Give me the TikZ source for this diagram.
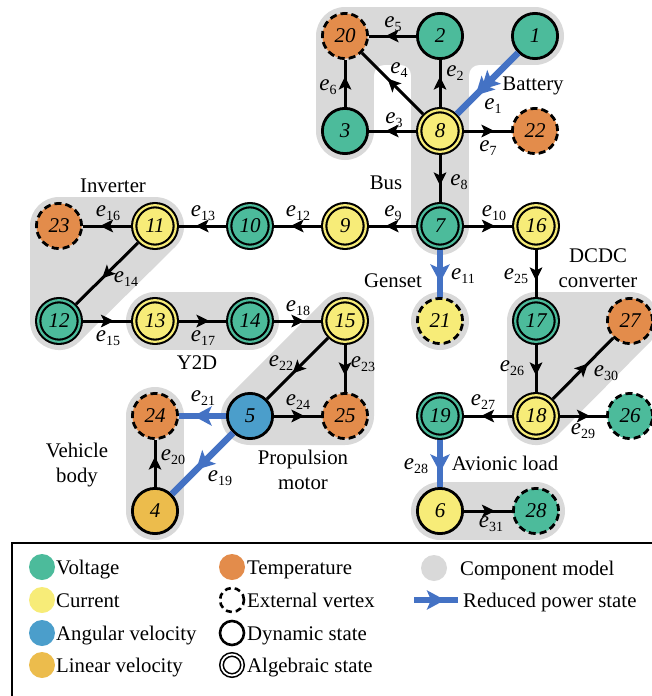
\documentclass[tikz,border=0pt]{standalone}
\usepackage{fontspec}
\setmainfont{Liberation Serif}
\usetikzlibrary{arrows.meta,decorations.markings,backgrounds}
\definecolor{cvolt}{HTML}{4CBB9B}
\definecolor{ctemp}{HTML}{E38C4B}
\definecolor{ccur}{HTML}{F7EC78}
\definecolor{cang}{HTML}{4B9ECB}
\definecolor{clin}{HTML}{ECBC4C}
\definecolor{cblue}{HTML}{4472C4}
\definecolor{cgrey}{HTML}{D9D9D9}
\newcommand{\elab}[1]{{\fontsize{23}{23}\selectfont\textit{e}}\raisebox{-3.5pt}{\fontsize{14}{14}\selectfont #1}}
\newcommand{\lblfont}{\fontsize{20.8}{22}\selectfont}
\tikzset{
  vx/.style={circle, fill=#1, draw=black, line width=2.8pt, minimum size=45.2pt, inner sep=0pt,
    font=\fontsize{21}{21}\selectfont\itshape},
  dyn/.style={vx=#1},
  ext/.style={vx=#1, dash pattern=on 7pt off 4pt},
  alg/.style={vx=#1, line width=2.1pt, double=#1, double distance=2.2pt, minimum size=41.6pt, outer sep=3.2pt},
  marr/.style={postaction={decorate}, decoration={markings,
    mark=at position 0.5 with {\pgftransformxshift{7pt}\arrow{Stealth[length=13pt,width=12.5pt,inset=3pt]}}}},
  ed/.style={draw=black, line width=3pt, marr},
  bmark/.style={decoration={markings,
    mark=at position 0.5 with {\pgftransformxshift{#1}\arrow{Stealth[length=18pt,width=19pt,inset=4pt]}}}},
  bed/.style={draw=cblue, line width=6.5pt, postaction={decorate}, bmark=9pt},
  elbl/.style={inner sep=0pt},
  tlbl/.style={inner sep=0pt, anchor=base, font=\lblfont},
  gline/.style={draw=cgrey, line width=58pt, line cap=round, line join=round},
  gtri/.style={draw=cgrey, fill=cgrey, line width=58pt, line join=round},
  lgd/.style={circle, fill=#1, minimum size=26pt, inner sep=0pt},
  lgo/.style={circle, draw=black, line width=2.6pt, minimum size=24pt, inner sep=0pt},
  ltext/.style={inner sep=0pt, anchor=base west, font=\lblfont},
}
\begin{document}
\begin{tikzpicture}[x=1pt, y=-1pt]
\useasboundingbox (0,0) rectangle (652,696);
% vertices
\node[dyn=cvolt] (n1) at (535,36) {1};
\node[dyn=cvolt] (n2) at (440,36) {2};
\node[ext=ctemp] (n20) at (345,36) {20};
\node[dyn=cvolt] (n3) at (345,131) {3};
\node[alg=ccur] (n8) at (440,131) {8};
\node[ext=ctemp] (n22) at (535,131) {22};
\node[alg=ccur] (n9) at (345,226) {9};
\node[alg=cvolt] (n7) at (440,226) {7};
\node[alg=ccur] (n16) at (536,226) {16};
\node[alg=cvolt] (n10) at (250,226) {10};
\node[alg=ccur] (n11) at (155,226) {11};
\node[ext=ctemp] (n23) at (59,226) {23};
\node[alg=cvolt] (n12) at (59,321) {12};
\node[alg=ccur] (n13) at (155,321) {13};
\node[alg=cvolt] (n14) at (250,321) {14};
\node[alg=ccur] (n15) at (345,321) {15};
\node[ext=ccur] (n21) at (440,321) {21};
\node[alg=cvolt] (n17) at (536,321) {17};
\node[ext=ctemp] (n27) at (630,321) {27};
\node[ext=ctemp] (n24) at (155,416) {24};
\node[dyn=cang] (n5) at (250,416) {5};
\node[ext=ctemp] (n25) at (345,416) {25};
\node[alg=cvolt] (n19) at (440,416) {19};
\node[alg=ccur] (n18) at (536,416) {18};
\node[ext=cvolt] (n26) at (630,416) {26};
\node[dyn=clin] (n4) at (155,511) {4};
\node[dyn=ccur] (n6) at (440,511) {6};
\node[ext=cvolt] (n28) at (536,511) {28};
% component model backgrounds
\begin{scope}[on background layer]
  \draw[gline] (n3.center) -- (n20.center) -- (n1.center);
  \draw[gline] (n2.center) -- (n7.center);
  \fill[cgrey] (374,65) -- (384,65) .. controls (378.5,65) and (374,69.5) .. (374,75) -- cycle;
  \fill[cgrey] (411,65) -- (411,75) .. controls (411,69.5) and (406.5,65) .. (401,65) -- cycle;
  \fill[cgrey] (469,65) -- (469,75) .. controls (469,69.5) and (473.5,65) .. (479,65) -- cycle;
  \filldraw[gtri] (n23.center) -- (n11.center) -- (n12.center) -- cycle;
  \draw[gline] (n13.center) -- (n14.center);
  \filldraw[gtri] (n15.center) -- (n25.center) -- (n5.center) -- cycle;
  \draw[gline] (n24.center) -- (n4.center);
  \filldraw[gtri] (n17.center) -- (n27.center) -- (n18.center) -- cycle;
  \draw[gline] (n6.center) -- (n28.center);
  \fill[cgrey] (n21.center) circle[radius=29pt];
\end{scope}
% edges
\draw[bed, bmark=17pt] (n1) -- (n8);
\draw[ed] (n8) -- (n2);
\draw[ed] (n8) -- (n3);
\draw[ed] (n8) -- (n20);
\draw[ed] (n2) -- (n20);
\draw[ed] (n3) -- (n20);
\draw[ed] (n8) -- (n22);
\draw[ed] (n8) -- (n7);
\draw[ed] (n7) -- (n9);
\draw[ed] (n7) -- (n16);
\draw[bed] (n7) -- (n21);
\draw[ed] (n9) -- (n10);
\draw[ed] (n10) -- (n11);
\draw[ed] (n11) -- (n12);
\draw[ed] (n12) -- (n13);
\draw[ed] (n11) -- (n23);
\draw[ed] (n13) -- (n14);
\draw[ed] (n14) -- (n15);
\draw[bed] (n5) -- (n4);
\draw[ed] (n4) -- (n24);
\draw[bed] (n5) -- (n24);
\draw[ed] (n15) -- (n5);
\draw[ed] (n15) -- (n25);
\draw[ed] (n5) -- (n25);
\draw[ed] (n16) -- (n17);
\draw[ed] (n17) -- (n18);
\draw[ed] (n18) -- (n19);
\draw[bed] (n19) -- (n6);
\draw[ed] (n18) -- (n26);
\draw[ed] (n18) -- (n27);
\draw[ed] (n6) -- (n28);
% edge labels
\node[elbl] (le1) at (493,106) {\elab{1}};
\node[elbl] (le2) at (455,73) {\elab{2}};
\node[elbl] (le3) at (394,120) {\elab{3}};
\node[elbl] (le4) at (399,70) {\elab{4}};
\node[elbl] (le5) at (393,24) {\elab{5}};
\node[elbl] (le6) at (328,87) {\elab{6}};
\node[elbl] (le7) at (488,148) {\elab{7}};
\node[elbl] (le8) at (459,182) {\elab{8}};
\node[elbl] (le9) at (393,213) {\elab{9}};
\node[elbl] (le10) at (494,213) {\elab{10}};
\node[elbl] (le11) at (463,276) {\elab{11}};
\node[elbl] (le12) at (298,213) {\elab{12}};
\node[elbl] (le13) at (203,213) {\elab{13}};
\node[elbl] (le14) at (126,279) {\elab{14}};
\node[elbl] (le15) at (108,338) {\elab{15}};
\node[elbl] (le16) at (108,213) {\elab{16}};
\node[elbl] (le17) at (203,338) {\elab{17}};
\node[elbl] (le18) at (298,308) {\elab{18}};
\node[elbl] (le19) at (220,478) {\elab{19}};
\node[elbl] (le20) at (173,457) {\elab{20}};
\node[elbl] (le21) at (203,398) {\elab{21}};
\node[elbl] (le22) at (281,363) {\elab{22}};
\node[elbl] (le23) at (363,364) {\elab{23}};
\node[elbl] (le24) at (298,402) {\elab{24}};
\node[elbl] (le25) at (516,276) {\elab{25}};
\node[elbl] (le26) at (512,368) {\elab{26}};
\node[elbl] (le27) at (483,402) {\elab{27}};
\node[elbl] (le28) at (416,466) {\elab{28}};
\node[elbl] (le29) at (583,431) {\elab{29}};
\node[elbl] (le30) at (606,373) {\elab{30}};
\node[elbl] (le31) at (491,524) {\elab{31}};
% component labels
\node[tlbl] (tbat) at (533,90) {Battery};
\node[tlbl] (tbus) at (386,189) {Bus};
\node[tlbl] (tinv) at (113,192) {Inverter};
\node[tlbl] (tgen) at (393,287) {Genset};
\node[tlbl] (tdc1) at (598,262) {DCDC};
\node[tlbl] (tdc2) at (598,287) {converter};
\node[tlbl] (ty2d) at (197,369) {Y2D};
\node[tlbl] (tpr1) at (303,464) {Propulsion};
\node[tlbl] (tpr2) at (303,489) {motor};
\node[tlbl] (tvb1) at (77,457) {Vehicle};
\node[tlbl] (tvb2) at (77,482) {body};
\node[tlbl] (tav) at (505,470) {Avionic load};
% legend
\draw[line width=1.5pt] (12,543) rectangle (720,760);
\node[lgd=cvolt] (lg1) at (42,567) {};
\node[ltext] (lt1) at (56,574) {Voltage};
\node[lgd=ccur] (lg2) at (42,600) {};
\node[ltext] (lt2) at (56,607) {Current};
\node[lgd=cang] (lg3) at (42,633) {};
\node[ltext] (lt3) at (56,640) {Angular velocity};
\node[lgd=clin] (lg4) at (42,665) {};
\node[ltext] (lt4) at (56,672) {Linear velocity};
\node[lgd=ctemp] (lg5) at (232,567) {};
\node[ltext] (lt5) at (247,574) {Temperature};
\node[lgo, dash pattern=on 6pt off 4pt] (lg6) at (232,600) {};
\node[ltext] (lt6) at (247,607) {External vertex};
\node[lgo] (lg7) at (232,633) {};
\node[ltext] (lt7) at (247,640) {Dynamic state};
\node[lgo, line width=1.6pt, double=white, double distance=1.8pt, minimum size=21pt] (lg8) at (232,665) {};
\node[ltext] (lt8) at (247,672) {Algebraic state};
\node[lgd=cgrey] (lg9) at (434,568) {};
\node[ltext] (lt9) at (460,575) {Component model};
\coordinate (la) at (414,600);
\coordinate (lb) at (458,600);
\draw[bed] (la) -- (lb);
\node[ltext] (lt10) at (463,607) {Reduced power state};
\end{tikzpicture}
\end{document}
